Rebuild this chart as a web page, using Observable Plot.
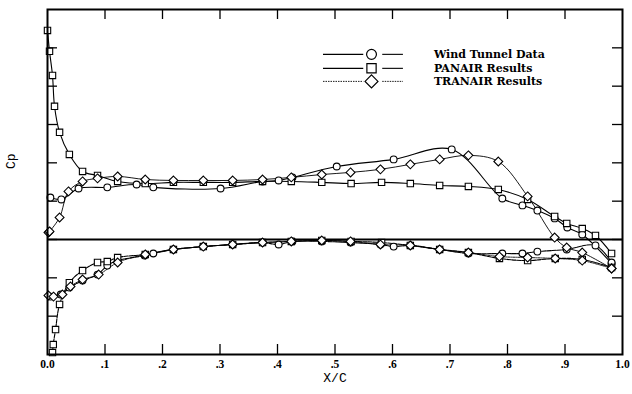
<!DOCTYPE html>
<html><head><meta charset="utf-8">
<script src="https://cdn.jsdelivr.net/npm/d3@7"></script>
<script src="https://cdn.jsdelivr.net/npm/@observablehq/plot@0.6"></script>
<style>body{margin:0;background:#fff}#chart{width:632px;height:394px}</style>
</head><body><div id="chart"></div>
<script>
// ---------- data ----------
const seriesNames = ["Wind Tunnel Data", "PANAIR Results", "TRANAIR Results"];
const xTickValues = [0.1, 0.2, 0.3, 0.4, 0.5, 0.6, 0.7, 0.8, 0.9];
const xLabelValues = [0, 0.1, 0.2, 0.3, 0.4, 0.5, 0.6, 0.7, 0.8, 0.9, 1.0];
const yTickValues = [-1.0, -0.8, -0.6, -0.4, -0.2, 0, 0.2, 0.4];

// Wind Tunnel Data
const windUpperX  = [0.005,0.024,0.054,0.104,0.155,0.184,0.301,0.374,0.402,0.426,0.503,0.602,0.703,0.791,0.826,0.852,0.882,0.904,0.930,0.981];
const windUpperCp = [-0.219,-0.209,-0.266,-0.272,-0.287,-0.272,-0.266,-0.303,-0.308,-0.324,-0.381,-0.418,-0.470,-0.214,-0.178,-0.151,-0.110,-0.063,-0.026,0.125];
const windLowerX  = [0.005,0.023,0.038,0.061,0.087,0.104,0.122,0.169,0.184,0.219,0.271,0.322,0.374,0.402,0.426,0.477,0.527,0.579,0.602,0.631,0.682,0.732,0.791,0.826,0.852,0.903,0.953,0.981];
const windLowerCp = [0.298,0.287,0.251,0.214,0.183,0.136,0.110,0.084,0.073,0.052,0.037,0.026,0.016,0.026,0.010,0.010,0.016,0.026,0.037,0.031,0.052,0.073,0.073,0.073,0.063,0.052,0.031,0.120];

// PANAIR Results
const panUpperX  = [0.000,0.0035,0.0087,0.0122,0.021,0.038,0.061,0.087,0.122,0.170,0.219,0.271,0.322,0.374,0.424,0.477,0.528,0.581,0.631,0.682,0.732,0.784,0.835,0.882,0.903,0.930,0.953,0.981];
const panUpperCp = [-1.091,-0.982,-0.856,-0.695,-0.559,-0.444,-0.355,-0.334,-0.303,-0.292,-0.298,-0.298,-0.298,-0.303,-0.303,-0.298,-0.292,-0.298,-0.292,-0.282,-0.277,-0.261,-0.209,-0.120,-0.084,-0.057,-0.021,0.073];
const panLowerX  = [0.0087,0.010,0.014,0.021,0.038,0.061,0.087,0.104,0.122,0.170,0.219,0.271,0.322,0.374,0.424,0.477,0.528,0.581,0.631,0.682,0.732,0.786,0.835,0.883,0.930,0.981];
const panLowerCp = [0.590,0.548,0.470,0.339,0.225,0.162,0.120,0.115,0.094,0.078,0.052,0.037,0.026,0.016,0.010,0.005,0.010,0.016,0.031,0.052,0.068,0.099,0.110,0.099,0.104,0.146];

// TRANAIR Results
const traUpperX  = [0.0017,0.0035,0.021,0.0365,0.061,0.087,0.122,0.170,0.219,0.271,0.322,0.374,0.424,0.477,0.527,0.579,0.631,0.682,0.732,0.784,0.835,0.882,0.903,0.930,0.981];
const traUpperCp = [-0.037,-0.042,-0.115,-0.251,-0.303,-0.319,-0.329,-0.313,-0.308,-0.308,-0.308,-0.313,-0.324,-0.339,-0.350,-0.366,-0.392,-0.418,-0.439,-0.407,-0.225,-0.010,0.042,0.068,0.151];
const traLowerX  = [0.0017,0.0104,0.026,0.040,0.061,0.089,0.122,0.170,0.219,0.271,0.322,0.374,0.424,0.477,0.527,0.579,0.631,0.682,0.732,0.786,0.835,0.883,0.930,0.981];
const traLowerCp = [0.292,0.298,0.287,0.245,0.209,0.183,0.120,0.078,0.052,0.037,0.026,0.016,0.010,0.005,0.010,0.026,0.031,0.052,0.068,0.089,0.094,0.099,0.110,0.151];

// ---------- build table ----------
const curves = [
  [seriesNames[0], "upper", windUpperX, windUpperCp],
  [seriesNames[0], "lower", windLowerX, windLowerCp],
  [seriesNames[1], "upper", panUpperX, panUpperCp],
  [seriesNames[1], "lower", panLowerX, panLowerCp],
  [seriesNames[2], "upper", traUpperX, traUpperCp],
  [seriesNames[2], "lower", traLowerX, traLowerCp]
];
const rows = curves.flatMap(([s, surf, xs, cps]) => xs.map((x, i) => ({series: s, surface: surf, key: s + surf, x, cp: cps[i]})));

// ---------- layout / style ----------
const W = 632, H = 394, mL = 47, mR = 10, mT = 9, mB = 40;
const xDomain = [0, 1], yDomain = [0.6, -1.2];
const innerW = W - mL - mR, innerH = H - mT - mB;
const tickPx = 10;
const tx = tickPx * (xDomain[1] - xDomain[0]) / innerW;
const ty = tickPx * (yDomain[0] - yDomain[1]) / innerH;
const symbolOf = {[seriesNames[0]]: "circle", [seriesNames[1]]: "square", [seriesNames[2]]: "diamond2"};
const rOf = {[seriesNames[0]]: 3.4, [seriesNames[1]]: 3.6, [seriesNames[2]]: 4};
const dashOf = {[seriesNames[0]]: null, [seriesNames[1]]: null, [seriesNames[2]]: null};
const fmt = d => d === 0 ? "0.0" : d === 1 ? "1.0" : d3.format(".1f")(d).replace(/^0/, "");

// legend placement (data units)
const legendRowsCp = [-0.966, -0.893, -0.825];
const legendSeg1 = [0.480, 0.550], legendSym = 0.5635, legendSeg2 = [0.583, 0.619], legendTextX = 0.672;
const legend = seriesNames.map((s, i) => ({series: s, cp: legendRowsCp[i]}));

const marks = [
  // inward ticks
  Plot.ruleX(xTickValues, {x: d => d, y1: yDomain[0], y2: yDomain[0] - ty, strokeWidth: 1.3}),
  Plot.ruleX(xTickValues, {x: d => d, y1: yDomain[1], y2: yDomain[1] + ty, strokeWidth: 1.3}),
  Plot.ruleY(yTickValues, {y: d => d, x1: xDomain[0], x2: xDomain[0] + tx, strokeWidth: 1.3}),
  Plot.ruleY(yTickValues, {y: d => d, x1: xDomain[1] - tx, x2: xDomain[1], strokeWidth: 1.3}),
  // zero line
  Plot.ruleY([0], {strokeWidth: 2.2}),
];
for (const s of seriesNames) {
  for (const surf of ["upper", "lower"]) {
    const d = rows.filter(r => r.series === s && r.surface === surf);
    marks.push(Plot.line(d, {x: "x", y: "cp", curve: "catmull-rom", stroke: "black",
      strokeWidth: s === seriesNames[2] ? 0.9 : 1.1,
      strokeDasharray: surf === "lower" ? (s === seriesNames[2] ? "1.5,1" : "4,1") : dashOf[s]}));
  }
}
for (const s of seriesNames) {
  marks.push(Plot.dot(rows.filter(r => r.series === s), {x: "x", y: "cp", symbol: symbolOf[s], r: rOf[s], stroke: "black", fill: "white", strokeWidth: 1.1}));
}
// legend
for (const l of legend) {
  const dash = l.series === seriesNames[2] ? "1.5,1" : null;
  const sw = l.series === seriesNames[2] ? 0.9 : 1.1;
  marks.push(Plot.ruleY([l], {y: "cp", x1: legendSeg1[0], x2: legendSeg1[1], strokeWidth: sw, strokeDasharray: dash}));
  marks.push(Plot.ruleY([l], {y: "cp", x1: legendSeg2[0], x2: legendSeg2[1], strokeWidth: sw, strokeDasharray: dash}));
  marks.push(Plot.dot([l], {x: () => legendSym, y: "cp", symbol: symbolOf[l.series], r: rOf[l.series] * 1.45, stroke: "black", fill: "white", strokeWidth: 1.2}));
}
marks.push(Plot.text(legend, {x: () => legendTextX, y: "cp", text: "series", textAnchor: "start", fontWeight: "bold", fontFamily: "DejaVu Serif", fontSize: 11}));
// axes
marks.push(Plot.axisX(xLabelValues, {anchor: "bottom", tickSize: 0, tickPadding: 5, tickFormat: fmt, fontFamily: "Liberation Serif", fontWeight: "bold", fontSize: 11.5, label: null}));
marks.push(Plot.text(["X/C"], {frameAnchor: "bottom", dy: 27, text: d => d, fontFamily: "Liberation Mono", fontSize: 13}));
marks.push(Plot.text(["Cp"], {frameAnchor: "left", dx: -37, dy: -13, rotate: -90, text: d => d, fontFamily: "Liberation Mono", fontSize: 13}));
marks.push(Plot.frame({strokeWidth: 2}));

const chart = Plot.plot({
  width: W, height: H,
  marginLeft: mL, marginRight: mR, marginTop: mT, marginBottom: mB,
  x: {domain: xDomain, axis: null},
  y: {domain: yDomain, axis: null},
  style: {background: "white", color: "black"},
  marks
});
document.getElementById("chart").appendChild(chart);
</script>
</body></html>
